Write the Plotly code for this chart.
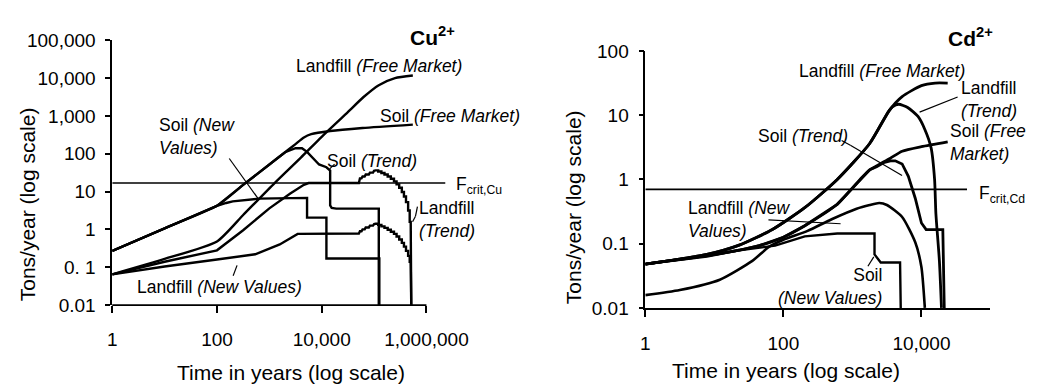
import plotly.graph_objects as go

W, H = 1042, 387

# ---------------- Cu2+ panel (left) ----------------
cu_time_soil_fm = [1, 10, 100, 316, 1000, 2000, 3160, 4570, 6300, 14500, 60000, 550000]
cu_soil_fm = [0.27, 1.07, 4.2, 15, 52, 110, 180, 270, 330, 400, 480, 590]

cu_time_soil_nv = [1, 10, 100, 150, 200, 620, 4300, 5250, 5250, 12300, 12300, 126000, 126000]
cu_soil_nv = [0.27, 1.07, 4.2, 5.0, 5.5, 6.5, 6.8, 6.8, 2.05, 2.05, 0.17, 0.17, 0.01]

cu_time_soil_tr = [1, 10, 100, 316, 1000, 2000, 3160, 4200, 5250, 7100, 8900, 12300, 14500, 14500,
                   15500, 19000, 123000, 123000]
cu_soil_tr = [0.27, 1.07, 4.2, 15, 52, 110, 140, 140, 112, 70, 52, 44, 36, 4.3, 3.7, 3.55, 3.55, 0.01]

cu_time_lf_fm = [1, 10, 100, 316, 1260, 4000, 10000, 29500, 63000, 123000, 251000, 550000]
cu_lf_fm = [0.065, 0.166, 0.48, 2.4, 16.8, 79, 280, 1150, 3160, 6500, 10000, 11700]

cu_time_lf_tr = [1, 10, 100, 316, 1000, 2510, 4570, 5620,
                 51300, 53700, 57500, 60300, 66100, 69200, 79400, 83200, 95500, 100000, 107000,
                 120000, 120000, 138000, 138000, 158000, 158000, 182000, 182000, 209000, 209000,
                 240000, 240000, 269000, 269000, 302000, 302000, 339000, 339000, 372000, 372000,
                 407000, 407000, 447000, 447000, 479000, 479000, 501000, 513000]
cu_lf_tr = [0.065, 0.14, 0.28, 0.95, 3.6, 8.9, 15.1, 16.8,
            16.8, 22.4, 22.4, 25.1, 25.1, 28.2, 28.2, 31.6, 31.6, 35.5, 36.3,
            36.3, 33.9, 33.9, 30.9, 30.9, 28.2, 28.2, 25.1, 25.1, 21.9,
            21.9, 18.6, 18.6, 15.5, 15.5, 12.6, 12.6, 9.77, 9.77, 7.41,
            7.41, 5.25, 5.25, 3.16, 3.16, 1.58, 1.58, 0.01]

cu_time_lf_nv = [1, 10, 100, 537, 1580, 3470,
                 51300, 53700, 57500, 60300, 66100, 69200, 79400, 83200, 95500, 100000, 107000,
                 120000, 120000, 138000, 138000, 158000, 158000, 182000, 182000, 209000, 209000,
                 240000, 240000, 269000, 269000, 302000, 302000, 339000, 339000, 372000, 372000,
                 407000, 407000, 447000, 447000, 479000, 479000, 501000, 513000]
cu_lf_nv = [0.065, 0.105, 0.16, 0.22, 0.4, 0.76,
            0.78, 0.89, 0.89, 1.0, 1.0, 1.12, 1.12, 1.26, 1.26, 1.38, 1.41,
            1.41, 1.32, 1.32, 1.2, 1.2, 1.1, 1.1, 0.98, 0.98, 0.87,
            0.87, 0.76, 0.76, 0.65, 0.65, 0.54, 0.54, 0.44, 0.44, 0.35,
            0.35, 0.27, 0.27, 0.2, 0.2, 0.14, 0.14, 0.01]

cu_fcrit_time = [1, 2290000]
cu_fcrit = [16.8, 16.8]

cu_x_ticks = [1, 100, 10000, 1000000]
cu_x_ticktext = ["1", "100", "10,000", "1,000,000"]
cu_y_ticks = [0.01, 0.1, 1, 10, 100, 1000, 10000, 100000]
cu_y_ticktext = ["0.01", "0. 1", "1", "10", "100", "1,000", "10,000", "100,000"]

# ---------------- Cd2+ panel (right) ----------------
cd_time_lf_fm = [1, 7.8, 22.9, 69.2, 204, 603, 1780, 3390, 5250, 10000, 15800, 24000]
cd_lf_fm = [0.048, 0.068, 0.095, 0.166, 0.363, 1.0, 3.63, 11.7, 19.5, 28.8, 31.6, 31.6]

cd_time_lf_tr = [1, 7.8, 22.9, 69.2, 204, 603, 1780, 3390, 3800, 4680, 6310, 8910, 11200, 13800,
                 15500, 16200, 18200, 19500]
cd_lf_tr = [0.048, 0.068, 0.095, 0.166, 0.363, 1.0, 3.63, 11.7, 13.5, 14.8, 13.2, 9.55, 6.0, 3.1,
            1.0, 0.29, 0.054, 0.01]

cd_time_soil_fm = [1, 7.8, 22.9, 44.7, 100, 204, 603, 1290, 1780, 2510, 3550, 5250, 10000, 24000]
cd_soil_fm = [0.048, 0.065, 0.079, 0.093, 0.126, 0.19, 0.41, 1.0, 1.41, 1.74, 2.14, 2.75, 3.24, 3.85]

cd_time_soil_tr = [1, 7.8, 22.9, 44.7, 100, 204, 603, 1290, 1780, 2240, 2820, 3550, 4170, 5250,
                   6460, 8130, 10000, 11700, 20400, 21400]
cd_soil_tr = [0.048, 0.065, 0.079, 0.093, 0.126, 0.19, 0.41, 1.0, 1.41, 1.58, 1.82, 1.95, 1.95, 1.74,
              1.12, 0.51, 0.21, 0.166, 0.166, 0.01]

cd_time_lf_nv = [1, 3.16, 12, 35.5, 61.7, 100, 224, 501, 1150, 1780, 2450, 3160, 5250, 8130, 10000, 11200]
cd_lf_nv = [0.0158, 0.019, 0.0275, 0.054, 0.089, 0.115, 0.158, 0.24, 0.35, 0.4, 0.43, 0.4, 0.26,
            0.105, 0.043, 0.01]

cd_time_soil_nv = [1, 7.8, 22.9, 75.9, 204, 603, 2090, 2090, 2570, 4900, 5010]
cd_soil_nv = [0.048, 0.063, 0.079, 0.093, 0.13, 0.144, 0.144, 0.068, 0.051, 0.051, 0.01]

cd_fcrit_time = [1, 45700]
cd_fcrit = [0.7, 0.7]

cd_x_ticks = [1, 100, 10000]
cd_x_ticktext = ["1", "100", "10,000"]
cd_y_ticks = [0.01, 0.1, 1, 10, 100]
cd_y_ticktext = ["0.01", "0.1", "1", "10", "100"]

# axis ranges (log10)
cu_x_range = [0, 6.4]
cu_x_axis_end = 6          # visible axis line ends at 1,000,000
cu_y_range = [-2, 5]
cd_x_range = [0, 5]
cd_y_range = [-2, 2]

# ---------------- figure ----------------
FONT = "Liberation Sans, Arial, sans-serif"
fig = go.Figure()


def add_line(x, y, xa, ya, width=2.4, smooth=False):
    line = dict(color="black", width=width)
    if smooth:
        line.update(shape="spline", smoothing=0.6)
    fig.add_trace(go.Scatter(x=x, y=y, mode="lines", xaxis=xa, yaxis=ya, line=line,
                             showlegend=False, hoverinfo="skip"))


add_line(cu_time_soil_fm, cu_soil_fm, "x", "y", smooth=True)
add_line(cu_time_soil_nv, cu_soil_nv, "x", "y")
add_line(cu_time_soil_tr, cu_soil_tr, "x", "y")
add_line(cu_time_lf_fm, cu_lf_fm, "x", "y", smooth=True)
add_line(cu_time_lf_tr, cu_lf_tr, "x", "y")
add_line(cu_time_lf_nv, cu_lf_nv, "x", "y")
add_line(cu_fcrit_time, cu_fcrit, "x", "y", width=1.6)

add_line(cd_time_lf_fm, cd_lf_fm, "x2", "y2", width=2.8, smooth=True)
add_line(cd_time_lf_tr, cd_lf_tr, "x2", "y2", width=2.8, smooth=True)
add_line(cd_time_soil_fm, cd_soil_fm, "x2", "y2", width=2.8, smooth=True)
add_line(cd_time_soil_tr, cd_soil_tr, "x2", "y2", width=2.8)
add_line(cd_time_lf_nv, cd_lf_nv, "x2", "y2", width=2.6, smooth=True)
add_line(cd_time_soil_nv, cd_soil_nv, "x2", "y2", width=2.4)
add_line(cd_fcrit_time, cd_fcrit, "x2", "y2", width=1.6)

# domains (paper fractions)
cu_xdom = [110 / W, 453.7 / W]
cu_ydom = [(H - 312) / H, (H - 32) / H]
cd_xdom = [656.7 / W, 1010.7 / W]
cd_ydom = [(H - 315) / H, (H - 43.3) / H]

axis_common = dict(type="log", showgrid=False, zeroline=False, ticks="outside",
                   tickcolor="black", tickwidth=1.5, linecolor="black", linewidth=1.6,
                   tickfont=dict(family=FONT, size=19, color="black"))

fig.update_layout(
    width=W, height=H, autosize=False,
    margin=dict(l=0, r=0, t=0, b=0),
    paper_bgcolor="white", plot_bgcolor="white",
    font=dict(family=FONT, color="black"),
    xaxis=dict(domain=cu_xdom, range=cu_x_range, anchor="y", showline=False,
               tickvals=cu_x_ticks, ticktext=cu_x_ticktext, ticklen=7,
               ticklabelstandoff=10, **axis_common),
    yaxis=dict(domain=cu_ydom, range=cu_y_range, anchor="x", showline=True,
               tickvals=cu_y_ticks, ticktext=cu_y_ticktext, ticklen=5,
               ticklabelstandoff=6, **axis_common),
    xaxis2=dict(domain=cd_xdom, range=cd_x_range, anchor="y2", showline=True,
                tickvals=cd_x_ticks, ticktext=cd_x_ticktext, ticklen=7,
                ticklabelstandoff=10, **axis_common),
    yaxis2=dict(domain=cd_ydom, range=cd_y_range, anchor="x2", showline=True,
                tickvals=cd_y_ticks, ticktext=cd_y_ticktext, ticklen=5,
                ticklabelstandoff=6, **axis_common),
)

# left x-axis line only up to 1,000,000
cu_axis_end_paper = cu_xdom[0] + (cu_x_axis_end - cu_x_range[0]) / (cu_x_range[1] - cu_x_range[0]) * (cu_xdom[1] - cu_xdom[0])
shapes = [dict(type="line", xref="paper", yref="paper", x0=cu_xdom[0], x1=cu_axis_end_paper,
               y0=cu_ydom[0], y1=cu_ydom[0], line=dict(color="black", width=1.8))]


def px(x, y):
    return x / W, 1 - y / H


def leader(pts):
    for (x0, y0), (x1, y1) in zip(pts[:-1], pts[1:]):
        a, b = px(x0, y0)
        c, d = px(x1, y1)
        shapes.append(dict(type="line", xref="paper", yref="paper", x0=a, y0=b, x1=c, y1=d,
                           line=dict(color="black", width=1.2)))


# leader lines
leader([(230, 157), (260, 200)])          # Soil (New Values) Cu
leader([(238, 270), (234, 281)])          # Landfill (New Values) Cu
leader([(333, 168), (338, 163)])          # Soil (Trend) Cu
leader([(418, 224), (421, 218), (423, 208)])  # Landfill (Trend) Cu
leader([(938, 108), (977, 92)])           # Landfill (Trend) Cd
leader([(858, 138), (867, 143), (920, 175)])  # Soil (Trend) Cd
leader([(783, 222), (857, 226)])          # Landfill (New Values) Cd
leader([(885, 271), (891, 261)])          # Soil (New Values) Cd
fig.update_layout(shapes=shapes)

LBL = 17.5
annots = []


def label(text, x, y, xanchor="left", yanchor="middle", size=LBL, align="left", angle=0):
    a, b = px(x, y)
    annots.append(dict(text=text, x=a, y=b, xref="paper", yref="paper", xanchor=xanchor,
                       yanchor=yanchor, showarrow=False, align=align, textangle=angle,
                       font=dict(family=FONT, size=size, color="black")))


# left panel labels
label("<b>Cu<sup>2+</sup></b>", 413, 27, size=21)
label("Landfill <i>(Free Market)</i>", 296, 59)
label("Soil <i>(Free Market)</i>", 383, 112)
label("Soil <i>(New</i><br><i>Values)</i>", 156, 134)
label("Soil <i>(Trend)</i>", 328, 160)
label("F<sub>crit,Cu</sub>", 461, 186)
label("Landfill<br><i>(Trend)</i>", 423, 222)
label("Landfill <i>(New Values)</i>", 133, 293)
label("Time in years (log scale)", 293, 383, xanchor="center", size=21)
label("Tons/year (log scale)", 23, 205, xanchor="center", size=21, angle=-90)

# right panel labels
label("<b>Cd<sup>2+</sup></b>", 965, 29, size=21)
label("Landfill <i>(Free Market)</i>", 812, 65)
label("Landfill<br><i>(Trend)</i>", 978, 95)
label("Soil <i>(Trend)</i>", 770, 133)
label("Soil <i>(Free</i><br><i>Market)</i>", 967, 140)
label("F<sub>crit,Cd</sub>", 997, 195)
label("Landfill <i>(New</i><br><i>Values)</i>", 698, 222)
label("Soil<br><i>(New Values)</i>", 902, 292, xanchor="right", align="right")
label("Time in years (log scale)", 801, 381, xanchor="center", size=21)
label("Tons/year (log scale)", 583, 208, xanchor="center", size=21, angle=-90)

fig.update_layout(annotations=annots)

fig.write_html("out.html")
